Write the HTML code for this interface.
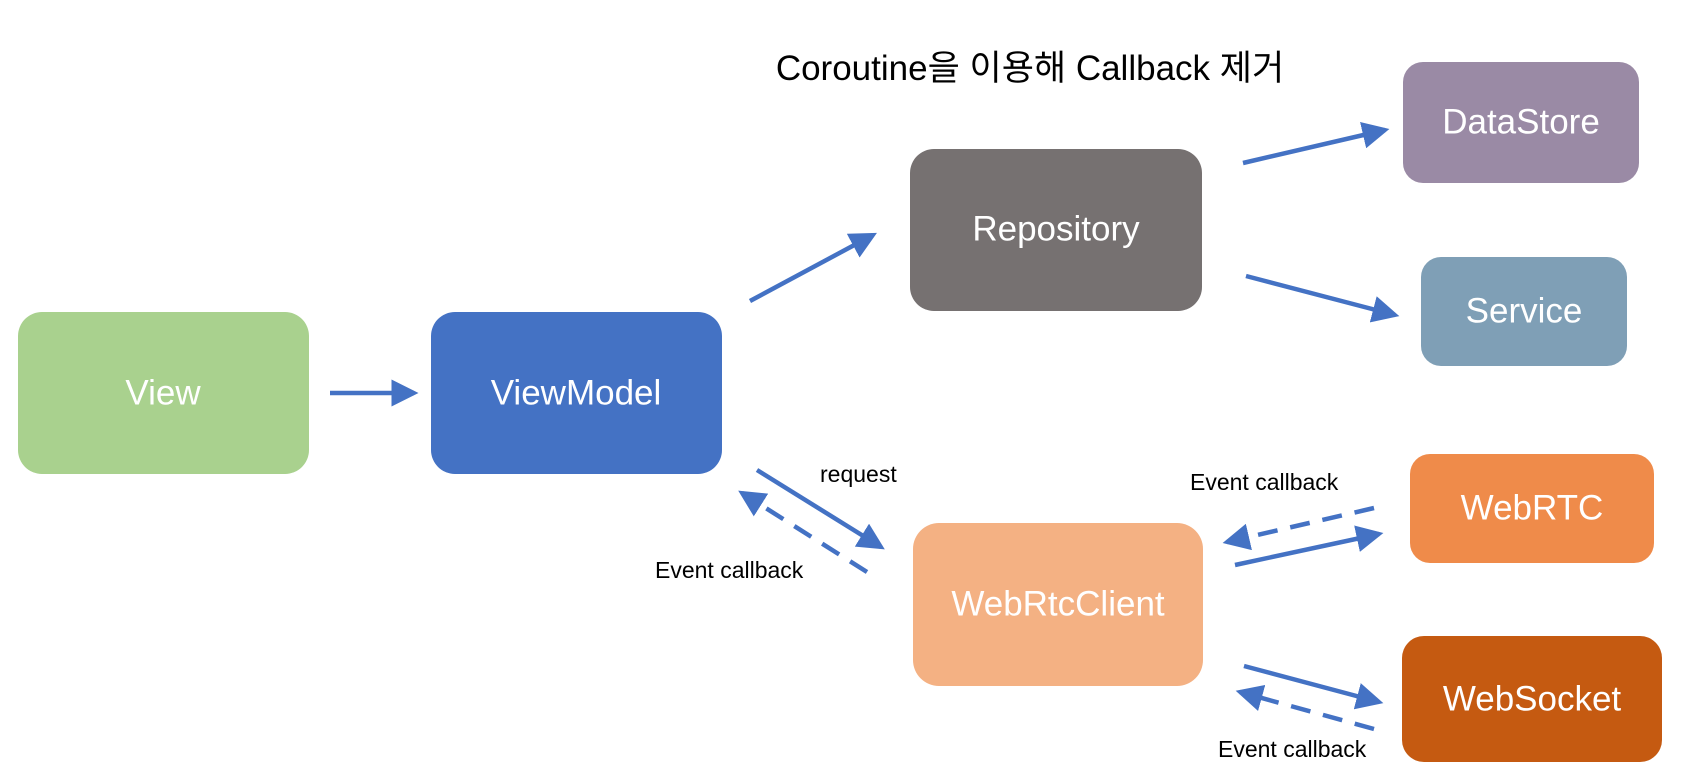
<!DOCTYPE html>
<html><head><meta charset="utf-8"><style>
html,body{margin:0;padding:0;background:#fff;width:1693px;height:781px;overflow:hidden}
svg{display:block}
.b{font-family:"Liberation Sans","Noto Sans CJK KR",sans-serif;fill:#fff;font-size:35px;text-anchor:middle;dominant-baseline:central}
.l{font-family:"Liberation Sans","Noto Sans CJK KR",sans-serif;fill:#000;font-size:23px}
</style></head><body>
<svg width="1693" height="781" viewBox="0 0 1693 781" xmlns="http://www.w3.org/2000/svg">
<defs>
<marker id="a" markerWidth="6" markerHeight="6" refX="5" refY="3" orient="auto" markerUnits="strokeWidth">
<path d="M0,0 L6,3 L0,6 Z" fill="#4472c4"/></marker>
</defs>
<text x="1030" y="80" font-family="'Liberation Sans','Noto Sans CJK KR',sans-serif" font-size="35" text-anchor="middle">Coroutine을 이용해 Callback 제거</text>

<rect x="18" y="312" width="291" height="162" rx="24" fill="#a9d18e"/>
<text class="b" x="163" y="393">View</text>
<rect x="431" y="312" width="291" height="162" rx="24" fill="#4472c4"/>
<text class="b" x="576" y="393">ViewModel</text>
<rect x="910" y="149" width="292" height="162" rx="24" fill="#767171"/>
<text class="b" x="1056" y="229">Repository</text>
<rect x="1403" y="62" width="236" height="121" rx="20" fill="#9a8aa5"/>
<text class="b" x="1521" y="122">DataStore</text>
<rect x="1421" y="257" width="206" height="109" rx="20" fill="#7f9fb6"/>
<text class="b" x="1524" y="311">Service</text>
<rect x="913" y="523" width="290" height="163" rx="26" fill="#f4b183"/>
<text class="b" x="1058" y="604">WebRtcClient</text>
<rect x="1410" y="454" width="244" height="109" rx="20" fill="#ef8b4a"/>
<text class="b" x="1532" y="508">WebRTC</text>
<rect x="1402" y="636" width="260" height="126" rx="22" fill="#c55a11"/>
<text class="b" x="1532" y="699">WebSocket</text>

<g stroke="#4472c4" stroke-width="4.5" fill="none">
<line x1="330" y1="393" x2="414" y2="393" marker-end="url(#a)"/>
<line x1="750" y1="301" x2="873" y2="235" marker-end="url(#a)"/>
<line x1="1243" y1="163" x2="1385" y2="130" marker-end="url(#a)"/>
<line x1="1246" y1="276" x2="1395" y2="315" marker-end="url(#a)"/>
<line x1="757" y1="470" x2="881" y2="547" marker-end="url(#a)"/>
<line x1="867" y1="572" x2="742" y2="493" stroke-dasharray="20 13" marker-end="url(#a)"/>
<line x1="1235" y1="565" x2="1379" y2="534" marker-end="url(#a)"/>
<line x1="1374" y1="508" x2="1227" y2="542" stroke-dasharray="20 13" marker-end="url(#a)"/>
<line x1="1244" y1="666" x2="1379" y2="702" marker-end="url(#a)"/>
<line x1="1374" y1="729" x2="1240" y2="692" stroke-dasharray="20 13" marker-end="url(#a)"/>
</g>

<text class="l" x="820" y="482">request</text>
<text class="l" x="655" y="578">Event callback</text>
<text class="l" x="1190" y="490">Event callback</text>
<text class="l" x="1218" y="757">Event callback</text>
</svg>
</body></html>
